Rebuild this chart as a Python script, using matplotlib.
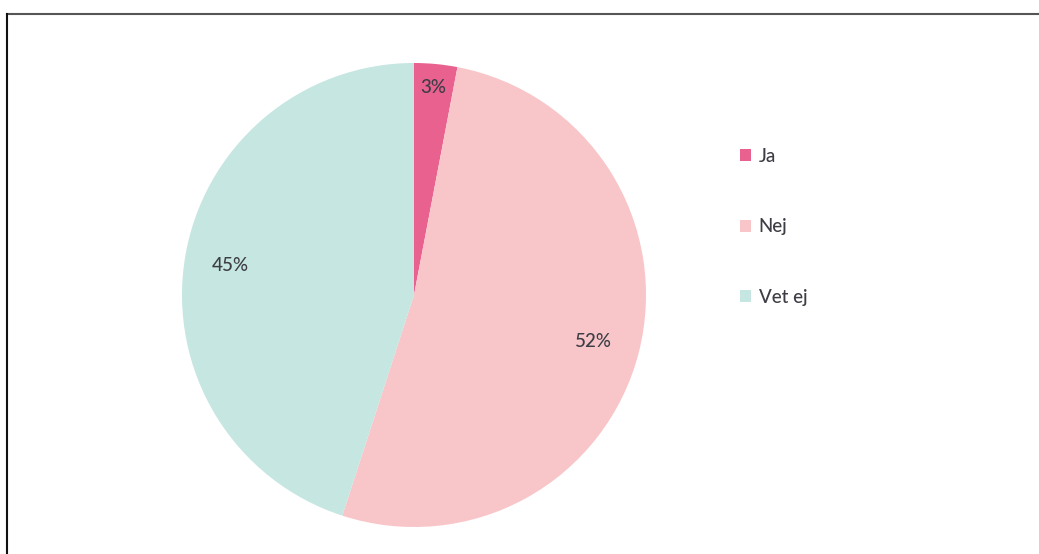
import matplotlib
matplotlib.use("Agg")
import matplotlib.pyplot as plt
from matplotlib.lines import Line2D

categories = ["Ja", "Nej", "Vet ej"]
values = [3, 52, 45]
colors = ["#e8618f", "#f8c6c9", "#c6e6e1"]

plt.rcParams['font.family'] = ['Lato', 'DejaVu Sans']
text_color = "#3d3d45"

fig = plt.figure(figsize=(10.39, 5.54), dpi=100)
ax = fig.add_axes([182/1039, 27/554, 464/1039, 464/554])

wedges, texts, autotexts = ax.pie(
    values, colors=colors, startangle=90, counterclock=False,
    autopct=lambda p: f"{p:.0f}%", pctdistance=0.8,
    textprops=dict(color=text_color, fontsize=13.5, fontweight='medium'),
    wedgeprops=dict(linewidth=0))
# push the small slice label outward
x, y = autotexts[0].get_position()
autotexts[0].set_position((x * 0.9 / 0.8, y * 0.9 / 0.8))
ax.set_xlim(-1, 1)
ax.set_ylim(-1, 1)
ax.set_aspect('equal')

leg = fig.legend(wedges, categories, loc="upper left",
                 bbox_to_anchor=(723/1039, 1 - 131/554),
                 frameon=False, labelcolor=text_color,
                 prop=dict(size=13.5, weight='medium'),
                 handlelength=0.6, handleheight=0.6, handletextpad=0.4,
                 labelspacing=2.85)

# frame lines (top and left)
fig.add_artist(Line2D([7/1039, 1.0], [1 - 14/554, 1 - 14/554],
                      transform=fig.transFigure, color="#555555", lw=1.5))
fig.add_artist(Line2D([7/1039, 7/1039], [0, 1 - 14/554],
                      transform=fig.transFigure, color="#111111", lw=1.5))

fig.savefig("out.png", dpi=100)
